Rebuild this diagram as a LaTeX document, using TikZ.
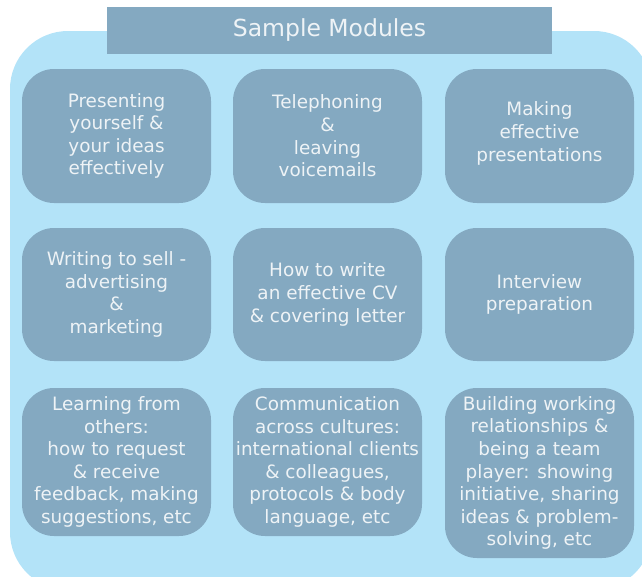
\documentclass[tikz,border=0pt]{standalone}
\usepackage{fontspec}
\setmainfont{DejaVu Sans}
\definecolor{outerc}{HTML}{B3E3F8}
\definecolor{boxc}{HTML}{84A9C1}
\definecolor{txtc}{HTML}{EEF3F6}
\tikzset{
  module/.style={rounded corners=32pt, fill=boxc, text=txtc, align=center,
    inner sep=0pt, minimum width=189pt,
    font=\fontsize{18.4}{22.6}\selectfont},
  titlebox/.style={fill=boxc, text=txtc, inner sep=0pt, minimum width=445pt,
    minimum height=47pt, font=\fontsize{23.5}{28}\selectfont}
}
\begin{document}
\begin{tikzpicture}[x=1pt,y=-1pt]
\useasboundingbox (0,0) rectangle (642,576);
\clip (0,0) rectangle (642,576);
\fill[outerc, rounded corners=58pt] (10,31) rectangle (652,590);
\node[titlebox] (title) at (329.5,30.5) {Sample Modules};
% row 1
\node[module, minimum height=134pt] (m11) at (116.5,136) {Presenting\\yourself \&\\your ideas\\effectively};
\node[module, minimum height=134pt] (m12) at (327.5,136) {Telephoning\\\&\\leaving\\voicemails};
\node[module, minimum height=134pt] (m13) at (539.5,136) {Making\\effective\\presentations\\[-13.5pt]};
% row 2
\node[module, minimum height=133pt] (m21) at (116.5,294.5) {Writing to sell -\\advertising\\\&\\marketing};
\node[module, minimum height=133pt] (m22) at (327.5,294.5) {How to write\\an effective CV\\\& covering letter};
\node[module, minimum height=133pt] (m23) at (539.5,294.5) {Interview\\preparation};
% row 3
\node[module, minimum height=148pt] (m31) at (116.5,462) {Learning from\\others:\\how to request\\\& receive\\feedback, making\\suggestions, etc};
\node[module, minimum height=148pt] (m32) at (327.5,462) {Communication\\across cultures:\\international clients\\\& colleagues,\\protocols \& body\\language, etc};
\node[module, minimum height=170pt] (m33) at (539.5,473) {Building working\\relationships \&\\being a team\\player: showing\\initiative, sharing\\ideas \& problem-\\solving, etc};
\end{tikzpicture}
\end{document}
